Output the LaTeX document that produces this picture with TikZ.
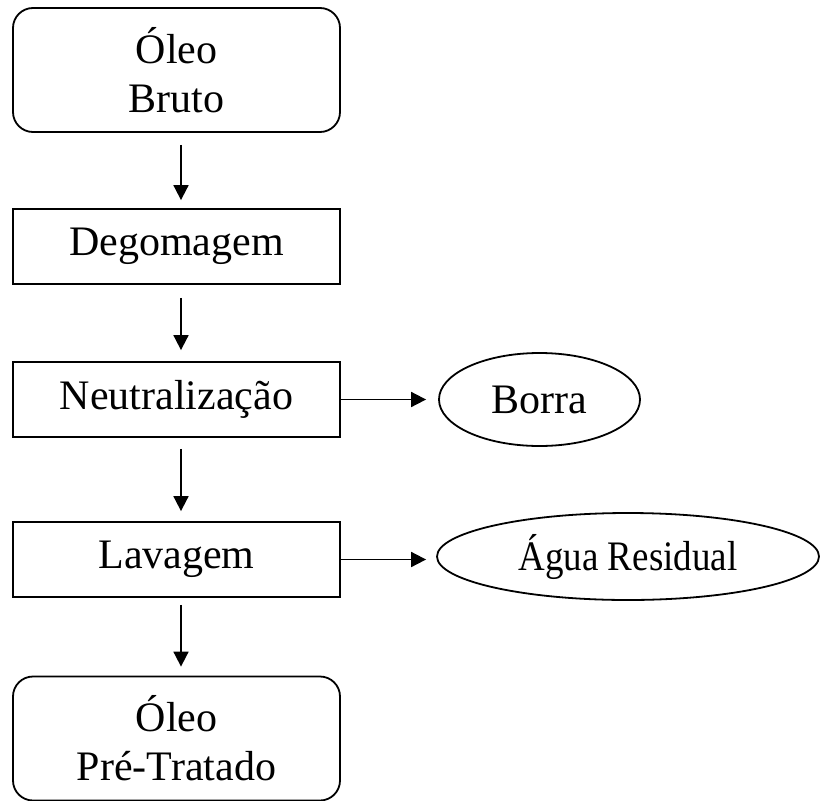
\documentclass[tikz,border=0pt]{standalone}
\usepackage{fontspec}
\setmainfont{Liberation Serif}
\usetikzlibrary{arrows.meta,shapes.geometric}

\tikzset{
  base/.style={draw=black, line width=1.8pt, inner sep=0pt, align=center,
    font=\fontsize{42}{49}\selectfont},
  stepbox/.style={base, rectangle, minimum width=327pt, minimum height=75pt},
  endbox/.style={base, rectangle, rounded corners=20pt, minimum width=327pt, minimum height=124pt},
  outlet/.style={base, ellipse, inner sep=0pt},
  flow/.style={line width=1.8pt, -{Triangle[length=15pt, width=15pt]}},
}

\begin{document}
\begin{tikzpicture}[x=1pt, y=-1pt]
  \useasboundingbox (0,0) rectangle (821,800);

  % main process column
  \node[endbox]  (bruto) at (176.5,70)    {Óleo\\Bruto};
  \node[stepbox] (dego)  at (176.5,246.5) {Degomagem};
  \node[stepbox] (neut)  at (176.5,399.5) {Neutralização};
  \node[stepbox] (lava)  at (176.5,559.5) {Lavagem};
  \node[endbox]  (trat)  at (176.5,738.5) {Óleo\\Pré-Tratado};

  % by-products
  \node[outlet, minimum width=201pt, minimum height=93pt] (borra) at (539.5,399.5) {Borra};
  \node[outlet, minimum width=382pt, minimum height=87pt] (agua)  at (628,556.5)
    {\scalebox{0.88}[1]{Água Residual}};

  % vertical flow arrows
  \draw[flow, shorten <=12pt, shorten >=8pt]  ([xshift=4.5pt]bruto.south) -- ([xshift=4.5pt]dego.north);
  \draw[flow, shorten <=13pt, shorten >=11pt] ([xshift=4.5pt]dego.south)  -- ([xshift=4.5pt]neut.north);
  \draw[flow, shorten <=11pt, shorten >=10pt] ([xshift=4.5pt]neut.south)  -- ([xshift=4.5pt]lava.north);
  \draw[flow, shorten <=7pt, shorten >=9pt]   ([xshift=4.5pt]lava.south)  -- ([xshift=4.5pt]trat.north);

  % side outputs
  \draw[flow, shorten >=12pt] (neut.east) -- (borra.west);
  \draw[flow, shorten >=10pt] (lava.east) -- (lava.east -| agua.west);
\end{tikzpicture}
\end{document}
